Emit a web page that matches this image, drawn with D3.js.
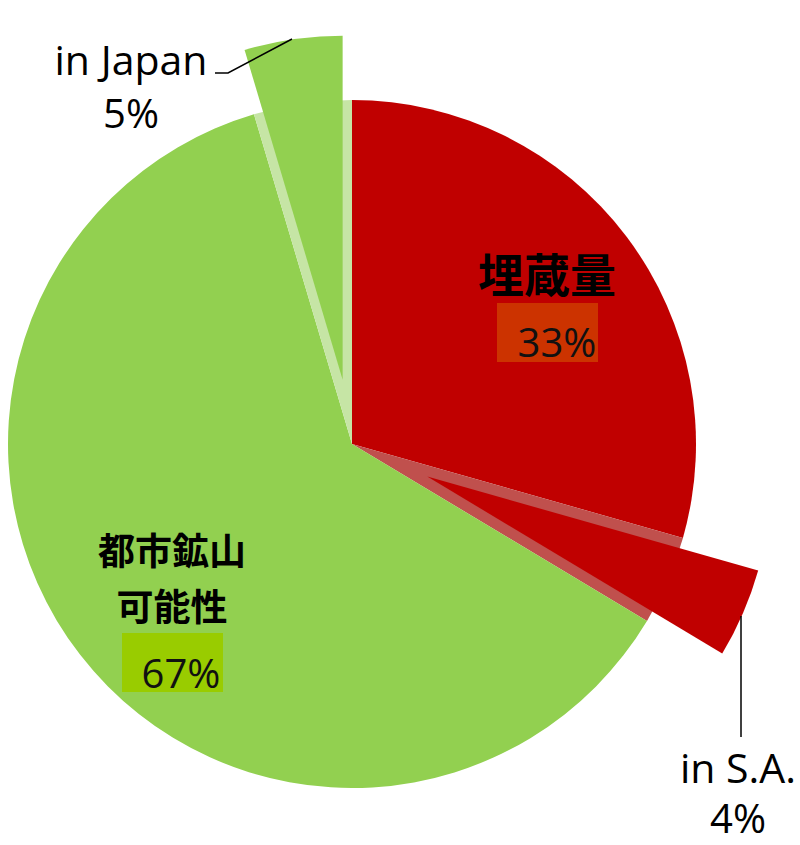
<!DOCTYPE html>
<html lang="ja">
<head>
<meta charset="UTF-8"/>
<title>Pie</title>
<script src="https://d3js.org/d3.v7.min.js"></script>
<style>
  body { margin:0; background:#fff; }
  svg text { font-family: "Open Sans", "Noto Sans CJK JP", sans-serif; }
</style>
</head>
<body>
<script>
	var w = 800;
	var h = 845;

	// slices clockwise from 12 o'clock
	var names   = ["埋蔵量", "in S.A.", "都市鉱山可能性", "in Japan"];
	var values  = [29.4, 4.2, 61.8, 4.6];
	var colors  = ["#c00000", "#c00000", "#92d050", "#92d050"];
	var ghosts  = ["#c0504d", "#c0504d", "#c6e5a5", "#c6e5a5"];
	var explode = [0, 82, 0, 65];

	// labels
	var groupLines = [["埋蔵量"], ["都市鉱山", "可能性"]];
	var groupPct   = ["33%", "67%"];
	var smallNames = ["in S.A.", "in Japan"];
	var smallPct   = ["4%", "5%"];

	var cx = 352, cy = 444, r = 344;

	var svg = d3.select("body")
				.append("svg")
				.attr("width", w)
				.attr("height", h);

	var pie = d3.pie().sort(null).value(function(d){ return d; });
	var arcs = pie(values);
	var arc = d3.arc().innerRadius(0).outerRadius(r);

	var g = svg.append("g").attr("transform", "translate(" + cx + "," + cy + ")");

	// normal slices and ghost of exploded ones
	g.selectAll("path.base")
		.data(arcs)
		.enter()
		.append("path")
		.attr("class", "base")
		.attr("d", arc)
		.attr("fill", function(d, i){ return explode[i] ? ghosts[i] : colors[i]; });

	// exploded slices
	function offset(d, i) {
		var a = (d.startAngle + d.endAngle) / 2;
		return [Math.sin(a) * explode[i], -Math.cos(a) * explode[i]];
	}
	g.selectAll("path.exp")
		.data(arcs.filter(function(d, i){ return explode[i] > 0; }))
		.enter()
		.append("path")
		.attr("class", "exp")
		.attr("d", arc)
		.attr("transform", function(d){
			var o = offset(d, d.index);
			return "translate(" + o[0] + "," + o[1] + ")";
		})
		.attr("fill", function(d){ return colors[d.index]; });

	// leader lines
	svg.append("polyline")
		.attr("points", "292,39 228,73 215,73")
		.attr("fill", "none").attr("stroke", "#000").attr("stroke-width", 1.5);
	svg.append("line")
		.attr("x1", 741).attr("y1", 616).attr("x2", 741).attr("y2", 737)
		.attr("stroke", "#000").attr("stroke-width", 1.5);

	// group labels
	var gl = [
		{x: 547, y: 292, box: [497, 303, 101, 59], boxColor: "#cc3300", tx: 557, ty: 357, size: 46},
		{x: 172, y: 565, box: [122, 633, 101, 59], boxColor: "#99cc00", tx: 181, ty: 688, size: 37}
	];
	gl.forEach(function(p, k){
		groupLines[k].forEach(function(line, j){
			svg.append("text")
				.attr("x", p.x).attr("y", p.y + j * 56)
				.attr("text-anchor", "middle")
				.attr("font-family", "Noto Sans CJK JP")
				.attr("font-weight", "bold")
				.attr("font-size", p.size)
				.attr("fill", "#000")
				.text(line);
		});
		svg.append("rect")
			.attr("x", p.box[0]).attr("y", p.box[1])
			.attr("width", p.box[2]).attr("height", p.box[3])
			.attr("fill", p.boxColor);
		svg.append("text")
			.attr("x", p.tx).attr("y", p.ty)
			.attr("text-anchor", "middle")
			.attr("font-size", 40)
			.attr("fill", "#111")
			.text(groupPct[k]);
	});

	// small slice labels
	var sl = [{x: 738, y: 783, gap: 50}, {x: 131, y: 75, gap: 53}];
	sl.forEach(function(p, k){
		svg.append("text")
			.attr("x", p.x).attr("y", p.y)
			.attr("text-anchor", "middle")
			.attr("font-size", 41)
			.attr("fill", "#000")
			.text(smallNames[k]);
		svg.append("text")
			.attr("x", p.x).attr("y", p.y + p.gap)
			.attr("text-anchor", "middle")
			.attr("font-size", 40)
			.attr("fill", "#000")
			.text(smallPct[k]);
	});
</script>
</body>
</html>
